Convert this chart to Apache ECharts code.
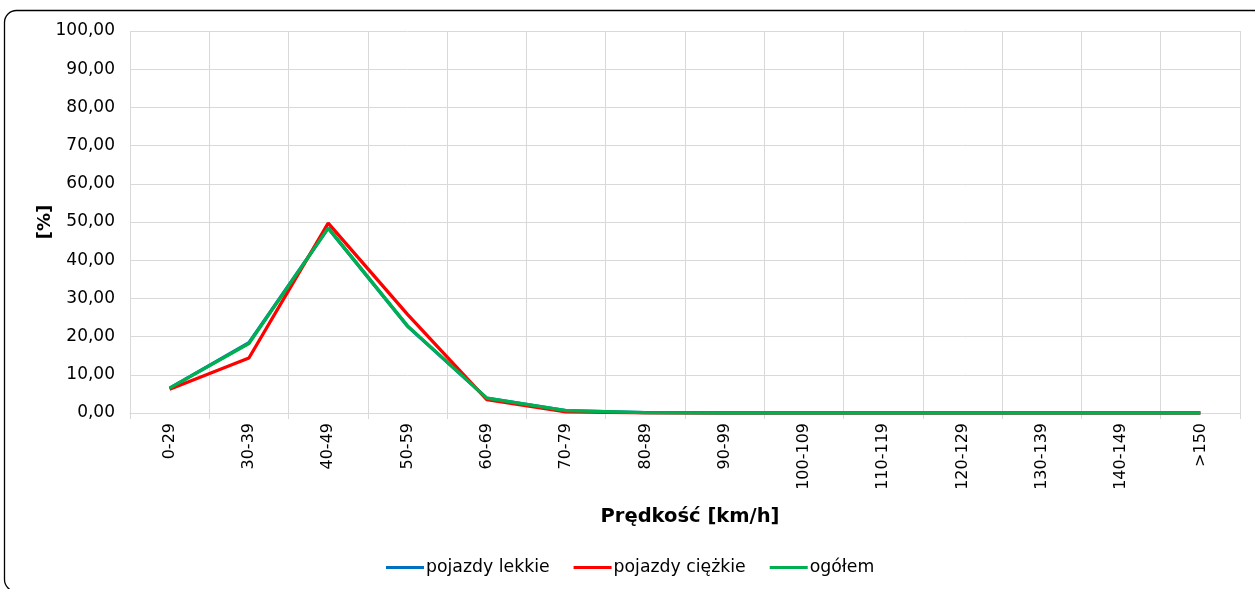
<!DOCTYPE html>
<html><head><meta charset="utf-8">
<script src="https://cdn.jsdelivr.net/npm/echarts@6/dist/echarts.min.js"></script>
<style>html,body{margin:0;padding:0;background:#fff}#c{width:1255px;height:589px}</style>
</head><body><div id="c"></div>
<script>
const categories = ['0-29','30-39','40-49','50-59','60-69','70-79','80-89','90-99','100-109','110-119','120-129','130-139','140-149','>150'];
const lekkie = [6.5, 18.4, 48.4, 22.7, 3.9, 0.6, 0.1, 0, 0, 0, 0, 0, 0, 0];
const ciezkie = [6.2, 14.4, 49.7, 25.8, 3.5, 0.3, 0.05, 0, 0, 0, 0, 0, 0, 0];
const ogolem = [6.5, 18.2, 48.4, 22.8, 3.9, 0.6, 0.1, 0, 0, 0, 0, 0, 0, 0];
const font = 'DejaVu Sans, Verdana, sans-serif';
const chart = echarts.init(document.getElementById('c'));
chart.setOption({
  animation: false,
  textStyle: {fontFamily: font},
  graphic: [{type:'rect', shape:{x:4.5,y:10.5,width:1270,height:581,r:12}, style:{fill:'none', stroke:'#000', lineWidth:1.3}, silent:true}],
  grid: {left:130, right:15, top:31, bottom:176, containLabel:false},
  legend: {top:554, left:381, itemWidth:38, itemHeight:3, itemGap:24, icon:'rect',
    textStyle:{fontFamily:font, fontSize:17.3, color:'#000', padding:[0,0,0,-3]},
    data:['pojazdy lekkie','pojazdy ciężkie','ogółem']},
  xAxis: {type:'category', data:categories, boundaryGap:true,
    name:'Prędkość [km/h]', nameLocation:'middle', nameGap:94,
    nameTextStyle:{fontFamily:font, fontSize:19.5, fontWeight:'bold', color:'#000', padding:[0,0,0,10]},
    axisLine:{lineStyle:{color:'#d9d9d9'}}, axisTick:{show:true, interval:0, length:6, lineStyle:{color:'#d9d9d9'}},
    splitLine:{show:true, interval:0, lineStyle:{color:'#d9d9d9'}},
    axisLabel:{rotate:90, interval:0, fontFamily:font, fontSize:16, color:'#000', margin:10}},
  yAxis: {type:'value', min:0, max:100, interval:10,
    name:'[%]', nameLocation:'middle', nameGap:76, nameRotate:90, nameMoveOverlap:false,
    nameTextStyle:{fontFamily:font, fontSize:18, fontWeight:'bold', color:'#000'},
    axisLine:{show:false}, axisTick:{show:false},
    splitLine:{lineStyle:{color:'#d9d9d9'}},
    axisLabel:{fontFamily:font, fontSize:17, color:'#000', margin:15,
      formatter: v => v.toFixed(2).replace('.', ',')}},
  series: [
    {name:'pojazdy lekkie', type:'line', data:lekkie, symbol:'none', lineStyle:{width:3.3, color:'#0070C0'}, itemStyle:{color:'#0070C0'}},
    {name:'pojazdy ciężkie', type:'line', data:ciezkie, symbol:'none', lineStyle:{width:3.3, color:'#FF0000'}, itemStyle:{color:'#FF0000'}},
    {name:'ogółem', type:'line', data:ogolem, symbol:'none', lineStyle:{width:3.3, color:'#00B050'}, itemStyle:{color:'#00B050'}}
  ]
});
</script></body></html>
